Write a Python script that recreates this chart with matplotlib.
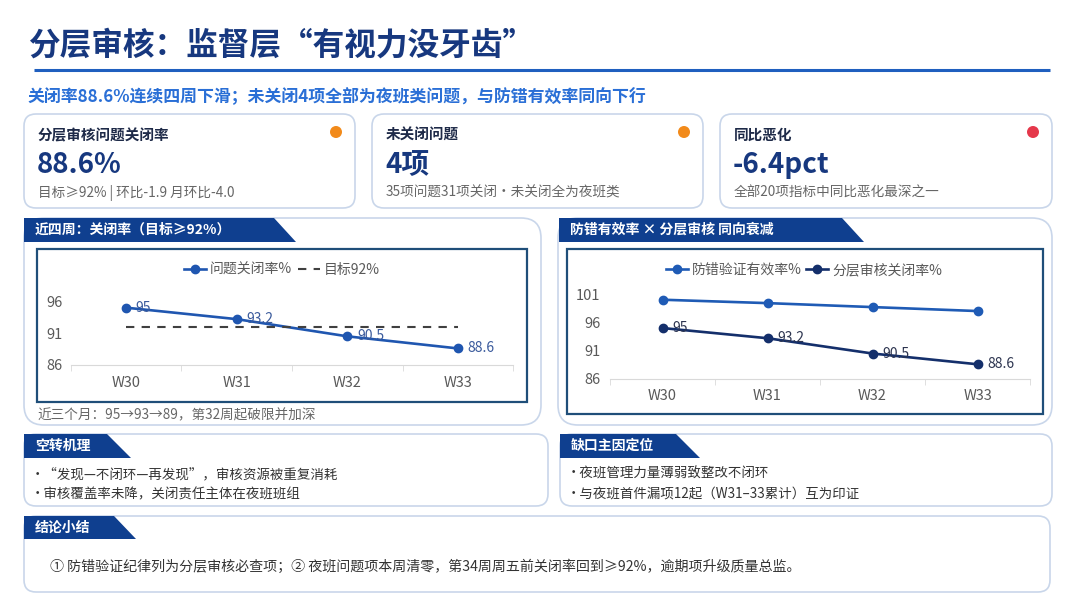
import matplotlib
matplotlib.use('Agg')
import matplotlib.pyplot as plt
from matplotlib.patches import FancyBboxPatch, Polygon, Rectangle, Circle

plt.rcParams['font.family'] = ['Noto Sans CJK SC', 'DejaVu Sans']

# 数据
weeks = ['W30', 'W31', 'W32', 'W33']
close_rate = [95, 93.2, 90.5, 88.6]          # 分层审核关闭率 %
target_rate = [92, 92, 92, 92]               # 目标 92%
errorproof_rate = [100.0, 99.4, 98.7, 98.0]  # 防错验证有效率 %

kpi_titles = ['分层审核问题关闭率', '未关闭问题', '同比恶化']
kpi_values = ['88.6%', '4项', '-6.4pct']
kpi_notes = ['目标≥92% | 环比-1.9 月环比-4.0',
             '35项问题31项关闭·未关闭全为夜班类',
             '全部20项指标中同比恶化最深之一']
kpi_dots = ['#f28a1a', '#f28a1a', '#e5384b']

W, H = 1080, 608
NAVY = '#17387f'
BANNER = '#0f3f8f'
BORDER = '#c9d6ea'
GREY = '#595959'

fig = plt.figure(figsize=(W / 100, H / 100), dpi=100)
fig.patch.set_facecolor('white')
bg = fig.add_axes([0, 0, 1, 1])
bg.set_xlim(0, W)
bg.set_ylim(H, 0)
bg.axis('off')


def fig_rect(x0, y0, x1, y1):
    return [x0 / W, 1 - y1 / H, (x1 - x0) / W, (y1 - y0) / H]


def card(x0, y0, x1, y1, r=12):
    bg.add_patch(FancyBboxPatch((x0, y0), x1 - x0, y1 - y0,
                                boxstyle=f'round,pad=0,rounding_size={r}',
                                fc='white', ec=BORDER, lw=1.2, zorder=1))


def banner(x0, y0, x1, y1, text, slant=22):
    bg.add_patch(Polygon([(x0, y0), (x1, y0), (x1 + slant, y1), (x0, y1)],
                         closed=True, fc=BANNER, ec='none', zorder=2))
    bg.text(x0 + 11, (y0 + y1) / 2, text, color='white', fontsize=10,
            fontweight='bold', ha='left', va='center', zorder=3)


# 标题
bg.text(28, 46, '分层审核：监督层“有视力没牙齿”', fontsize=22.8, fontweight='bold',
        color=NAVY, ha='left', va='center')
bg.plot([34, 1050], [70, 70], color='#1f5fbf', lw=2.2, solid_capstyle='butt')
bg.text(28, 97, '关闭率88.6%连续四周下滑；未关闭4项全部为夜班类问题，与防错有效率同向下行',
        fontsize=12.2, fontweight='bold', color='#2a6fd6', ha='left', va='center')

# KPI 卡片
card_x = [(24, 355), (372, 703), (720, 1052)]
for (x0, x1), t, v, n, c in zip(card_x, kpi_titles, kpi_values, kpi_notes, kpi_dots):
    card(x0, 114, x1, 208)
    bg.text(x0 + 14, 135, t, fontsize=10.5, fontweight='bold', color='#1e2a48',
            ha='left', va='center')
    bg.text(x0 + 13, 165, v, fontsize=20, fontweight='bold', color=NAVY,
            ha='left', va='center')
    bg.text(x0 + 14, 193, n, fontsize=9.8, color='#666666', ha='left', va='center')
    bg.add_patch(Circle((x1 - 19, 132), 6, fc=c, ec='none', zorder=3))

# 图表卡片
card(24, 218, 541, 425, r=20)
card(558, 218, 1052, 425, r=20)
banner(24, 218, 274, 242, '近四周：关闭率（目标≥92%）')
banner(559, 218, 842, 242, '防错有效率 × 分层审核 同向衰减')
bg.add_patch(Rectangle((37, 249), 490, 153, fc='white', ec='#1f4e79', lw=1.6, zorder=2))
bg.add_patch(Rectangle((567, 249), 476, 165, fc='white', ec='#1f4e79', lw=1.6, zorder=2))
bg.text(37, 415, '近三个月：95→93→89，第32周起破限并加深', fontsize=9.8,
        color='#666666', ha='left', va='center')

x = list(range(len(weeks)))


def style_axes(ax, ylim, yticks, xpad, ypad):
    ax.set_facecolor('none')
    ax.set_xlim(-0.5, len(weeks) - 0.5)
    ax.set_ylim(*ylim)
    ax.set_yticks(yticks)
    ax.set_xticks(x)
    ax.set_xticklabels(weeks)
    ax.set_xticks([i - 0.5 for i in range(len(weeks) + 1)], minor=True)
    for s in ['top', 'right', 'left']:
        ax.spines[s].set_visible(False)
    ax.spines['bottom'].set_color('#d9d9d9')
    ax.tick_params(axis='x', which='major', length=0, pad=xpad, labelsize=10.5,
                   labelcolor=GREY)
    ax.tick_params(axis='x', which='minor', length=4, color='#d9d9d9')
    ax.tick_params(axis='y', length=0, pad=ypad, labelsize=10.5, labelcolor=GREY)


# 左图：关闭率
ax1 = fig.add_axes(fig_rect(70.7, 285, 513.3, 365))
ax1.plot(x, close_rate, color='#1f56b0', lw=1.9, marker='o', ms=6, label='问题关闭率%')
ax1.plot(x, target_rate, color='#404040', lw=1.5, ls=(0, (4, 3.5)), label='目标92%')
for i, v in enumerate(close_rate):
    ax1.annotate(f'{v:g}', (i, v), xytext=(7, 0), textcoords='offset points',
                 ha='left', va='center', fontsize=10, color='#3a5a9c')
style_axes(ax1, (86, 98.56), [86, 91, 96], 8, 6)
ax1.legend(loc='center', bbox_to_anchor=(282 / W, 1 - 270 / H), bbox_transform=fig.transFigure,
           ncol=2, frameon=False, fontsize=10, labelcolor=GREY, handlelength=1.6,
           handletextpad=0.3, columnspacing=0.4)

# 右图：防错有效率 vs 关闭率
ax2 = fig.add_axes(fig_rect(610, 285, 1030, 379))
ax2.plot(x, errorproof_rate, color='#1f5bb5', lw=1.9, marker='o', ms=6, label='防错验证有效率%')
ax2.plot(x, close_rate, color='#142f6b', lw=1.9, marker='o', ms=6, label='分层审核关闭率%')
for i, v in enumerate(close_rate):
    ax2.annotate(f'{v:g}', (i, v), xytext=(7, 0), textcoords='offset points',
                 ha='left', va='center', fontsize=10, color='#2d3550')
style_axes(ax2, (86, 102.6), [86, 91, 96, 101], 7, 7)
ax2.legend(loc='center', bbox_to_anchor=(804 / W, 1 - 270 / H), bbox_transform=fig.transFigure,
           ncol=2, frameon=False, fontsize=10, labelcolor=GREY, handlelength=1.6,
           handletextpad=0.3, columnspacing=0.3)

# 下方说明卡片
card(24, 434, 548, 506)
card(560, 434, 1052, 506)
card(24, 516, 1050, 592)
banner(24, 434, 107, 458, '空转机理', slant=24)
banner(560, 434, 676, 458, '缺口主因定位', slant=24)
banner(24, 516, 114, 539, '结论小结', slant=22)

bullets_left = ['·“发现—不闭环—再发现”，审核资源被重复消耗',
                '·审核覆盖率未降，关闭责任主体在夜班班组']
bullets_right = ['·夜班管理力量薄弱致整改不闭环',
                 '·与夜班首件漏项12起（W31–33累计）互为印证']
for j, s in enumerate(bullets_left):
    bg.text(31, 474 + 20 * j, s, fontsize=9.7, color='#333333', ha='left', va='center')
for j, s in enumerate(bullets_right):
    bg.text(567, 474 + 20 * j, s, fontsize=9.7, color='#333333', ha='left', va='center')
bg.text(50, 567, '① 防错验证纪律列为分层审核必查项；② 夜班问题项本周清零，第34周周五前关闭率回到≥92%，逾期项升级质量总监。',
        fontsize=10.1, color='#333333', ha='left', va='center')

fig.savefig('out.png', dpi=100)
